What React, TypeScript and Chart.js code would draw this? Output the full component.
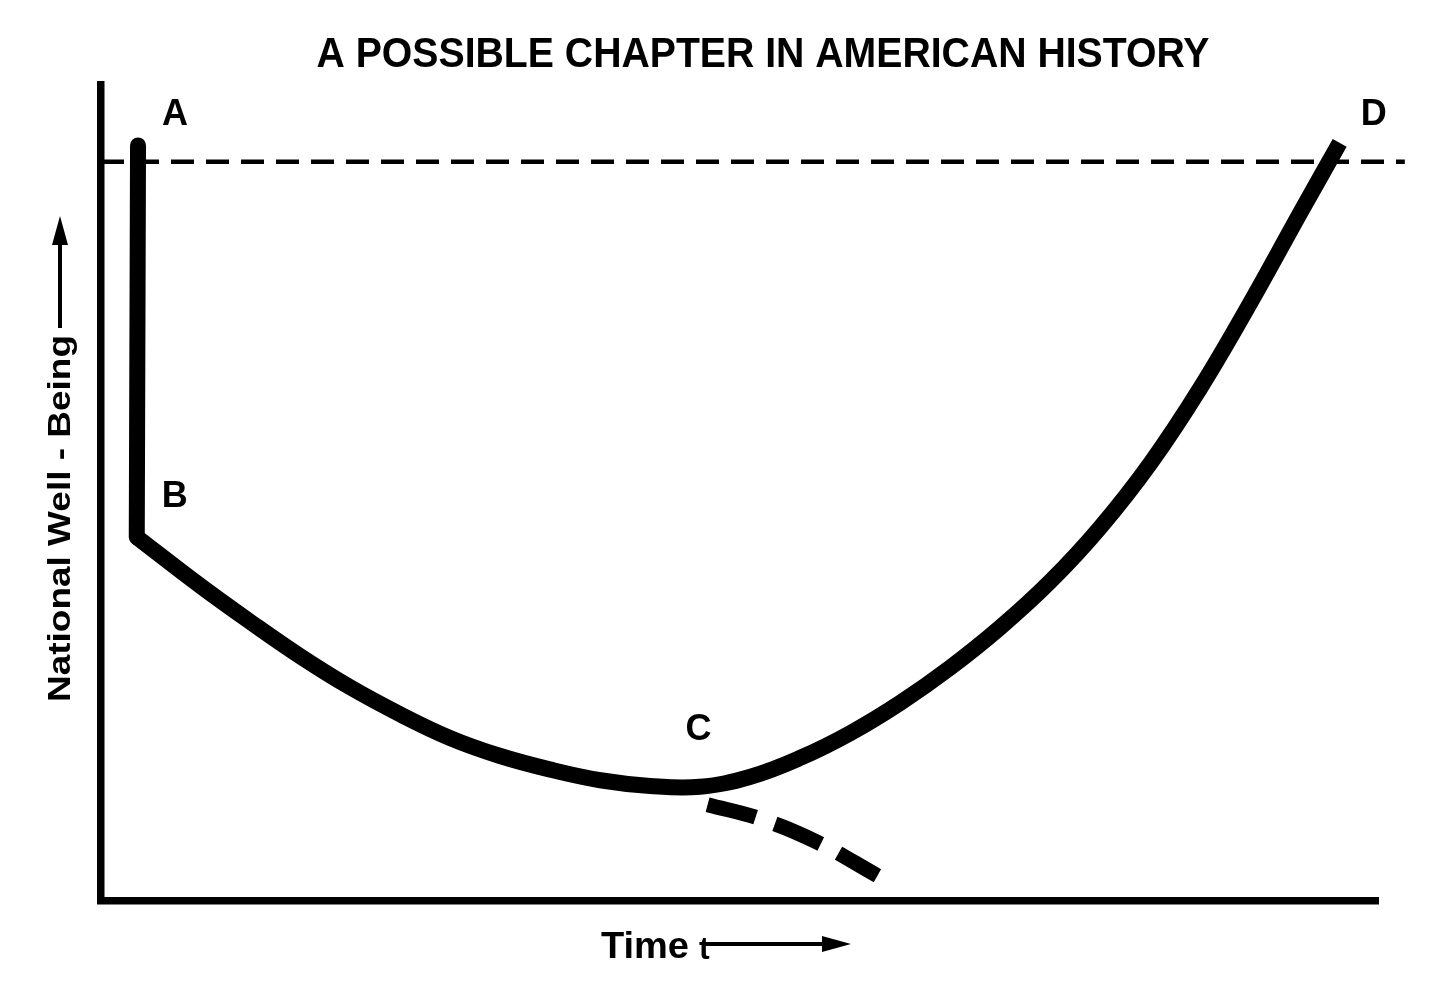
import React, { useEffect, useRef } from "react";
import { Chart, registerables } from "chart.js";

Chart.register(...registerables);

// ---------- text ----------
const TITLE = "A POSSIBLE CHAPTER IN AMERICAN HISTORY";
const Y_LABEL = "National Well - Being";
const X_LABEL = "Time";
const X_LABEL_EXTRA = "t";
const POINT_LABELS = ["A", "B", "C", "D"];

// ---------- data (time vs. national well-being, arbitrary units 0-100) ----------
// A -> B : sudden fall
const fallTime = [2.9, 2.8];
const fallWell = [92.6, 44.6];
// B -> C -> D : slow decline then recovery
const recoveryTime = [2.8, 7.8, 11.7, 15.6, 19.5, 23.4, 27.3, 31.2, 35.2, 39.1, 43.0, 46.9, 50.8, 54.7, 58.7, 62.6, 66.5, 70.4, 74.3, 78.2, 82.2, 86.1, 90.0, 93.9, 97.0];
const recoveryWell = [44.6, 38.6, 34.2, 30.0, 26.2, 22.9, 20.0, 17.8, 16.1, 14.8, 14.1, 14.0, 15.2, 17.5, 20.6, 24.3, 28.6, 33.5, 39.1, 45.7, 53.7, 62.9, 73.3, 84.3, 92.9];
// alternative path after C : continued decline
const declineTime = [47.5, 51.6, 56.1, 60.8];
const declineWell = [11.8, 10.1, 7.2, 3.1];
// original level of well-being
const referenceTime = [0, 102.1];
const referenceWell = [90.6, 90.6];

const toPoints = (xs: number[], ys: number[]) => xs.map((x, i) => ({ x, y: ys[i] }));

const FONT = '"Liberation Sans", Arial, Helvetica, sans-serif';

function fitText(
  ctx: CanvasRenderingContext2D,
  text: string,
  x: number,
  y: number,
  width: number,
  font: string,
  align: "left" | "center"
) {
  ctx.font = font;
  const w = ctx.measureText(text).width;
  ctx.save();
  ctx.translate(x, y);
  ctx.scale(width / w, 1);
  ctx.textAlign = "left";
  ctx.textBaseline = "alphabetic";
  ctx.fillText(text, align === "center" ? -w / 2 : 0, 0);
  ctx.restore();
}

const annotationPlugin = {
  id: "annotations",
  afterDatasetsDraw(chart: any) {
    const ctx: CanvasRenderingContext2D = chart.ctx;
    const { left, top, bottom } = chart.chartArea;
    const xs = chart.scales.x;
    const ys = chart.scales.y;
    ctx.save();
    ctx.fillStyle = "#000";
    ctx.strokeStyle = "#000";

    // Title
    fitText(ctx, TITLE, 763, top - 18, 893, `bold 43px ${FONT}`, "center");

    // Y axis label (rotated) + arrow
    ctx.save();
    ctx.translate(left - 31, bottom - 199);
    ctx.rotate(-Math.PI / 2);
    fitText(ctx, Y_LABEL, 0, 0, 367, `bold 31px ${FONT}`, "left");
    ctx.restore();
    const ax = left - 41;
    ctx.lineWidth = 4;
    ctx.beginPath();
    ctx.moveTo(ax, 328);
    ctx.lineTo(ax, 240);
    ctx.stroke();
    ctx.beginPath();
    ctx.moveTo(ax, 216);
    ctx.lineTo(ax - 8, 245);
    ctx.lineTo(ax + 8, 245);
    ctx.closePath();
    ctx.fill();

    // X axis label + arrow
    fitText(ctx, X_LABEL, 601, bottom + 57, 88, `bold 37px ${FONT}`, "left");
    ctx.font = `bold 32px ${FONT}`;
    ctx.textAlign = "left";
    ctx.fillText(X_LABEL_EXTRA, 699, bottom + 58);
    ctx.lineWidth = 4;
    ctx.beginPath();
    ctx.moveTo(703, bottom + 43);
    ctx.lineTo(826, bottom + 43);
    ctx.stroke();
    ctx.beginPath();
    ctx.moveTo(851, bottom + 43);
    ctx.lineTo(822, bottom + 35);
    ctx.lineTo(822, bottom + 51);
    ctx.closePath();
    ctx.fill();

    // Point labels A, B, C, D
    const anchors = [
      { x: fallTime[0], y: fallWell[0], dx: 37, dy: -20 },
      { x: fallTime[1], y: fallWell[1], dx: 38, dy: -30 },
      { x: declineTime[0], y: declineWell[0], dx: -9, dy: -65 },
      { x: recoveryTime[recoveryTime.length - 1], y: recoveryWell[recoveryWell.length - 1], dx: 34, dy: -18 },
    ];
    ctx.font = `bold 36px ${FONT}`;
    ctx.textAlign = "center";
    ctx.textBaseline = "alphabetic";
    anchors.forEach((a, i) => {
      const px = xs.getPixelForValue(a.x) + a.dx;
      const py = ys.getPixelForValue(a.y) + a.dy;
      ctx.fillText(POINT_LABELS[i], px, py);
    });
    ctx.restore();
  },
};

const whiteBg = {
  id: "whiteBg",
  beforeDraw(chart: any) {
    const ctx = chart.ctx;
    ctx.save();
    ctx.fillStyle = "#fff";
    ctx.fillRect(0, 0, chart.width, chart.height);
    ctx.restore();
  },
};

export default function App() {
  const ref = useRef<HTMLCanvasElement>(null);

  useEffect(() => {
    if (!ref.current) return;
    const chart = new Chart(ref.current, {
      type: "line",
      data: {
        datasets: [
          {
            label: "Fall A-B",
            data: toPoints(fallTime, fallWell),
            borderColor: "#000",
            borderWidth: 16,
            borderCapStyle: "round",
            borderJoinStyle: "round",
            tension: 0,
            pointRadius: 0,
            fill: false,
          },
          {
            label: "Path B-C-D",
            data: toPoints(recoveryTime, recoveryWell),
            borderColor: "#000",
            borderWidth: 16,
            borderCapStyle: "butt",
            borderJoinStyle: "round",
            tension: 0.4,
            pointRadius: 0,
            fill: false,
          },
          {
            label: "Continued decline",
            data: toPoints(declineTime, declineWell),
            borderColor: "#000",
            borderWidth: 15,
            borderDash: [50, 20],
            borderCapStyle: "butt",
            tension: 0.4,
            pointRadius: 0,
            fill: false,
          },
          {
            label: "Original level",
            data: toPoints(referenceTime, referenceWell),
            borderColor: "#000",
            borderWidth: 4.5,
            borderDash: [23, 12],
            borderCapStyle: "butt",
            pointRadius: 0,
            fill: false,
            clip: false,
          } as any,
        ],
      },
      options: {
        animation: false,
        responsive: true,
        maintainAspectRatio: false,
        layout: { padding: { left: 101, right: 78, top: 85, bottom: 94 } },
        plugins: {
          legend: { display: false },
          tooltip: { enabled: false },
          title: { display: false },
        },
        scales: {
          x: {
            type: "linear",
            min: 0,
            max: 100,
            grid: { display: false, drawTicks: false },
            ticks: { display: false },
            border: { display: true, color: "#000", width: 7.5 },
          },
          y: {
            type: "linear",
            min: 0,
            max: 100,
            grid: { display: false, drawTicks: false },
            ticks: { display: false },
            border: { display: true, color: "#000", width: 7.5 },
          },
        },
      },
      plugins: [whiteBg, annotationPlugin],
    } as any);
    return () => chart.destroy();
  }, []);

  return (
    <div style={{ position: "fixed", left: 0, top: 0, width: 1456, height: 995, background: "#fff" }}>
      <canvas ref={ref} />
    </div>
  );
}
